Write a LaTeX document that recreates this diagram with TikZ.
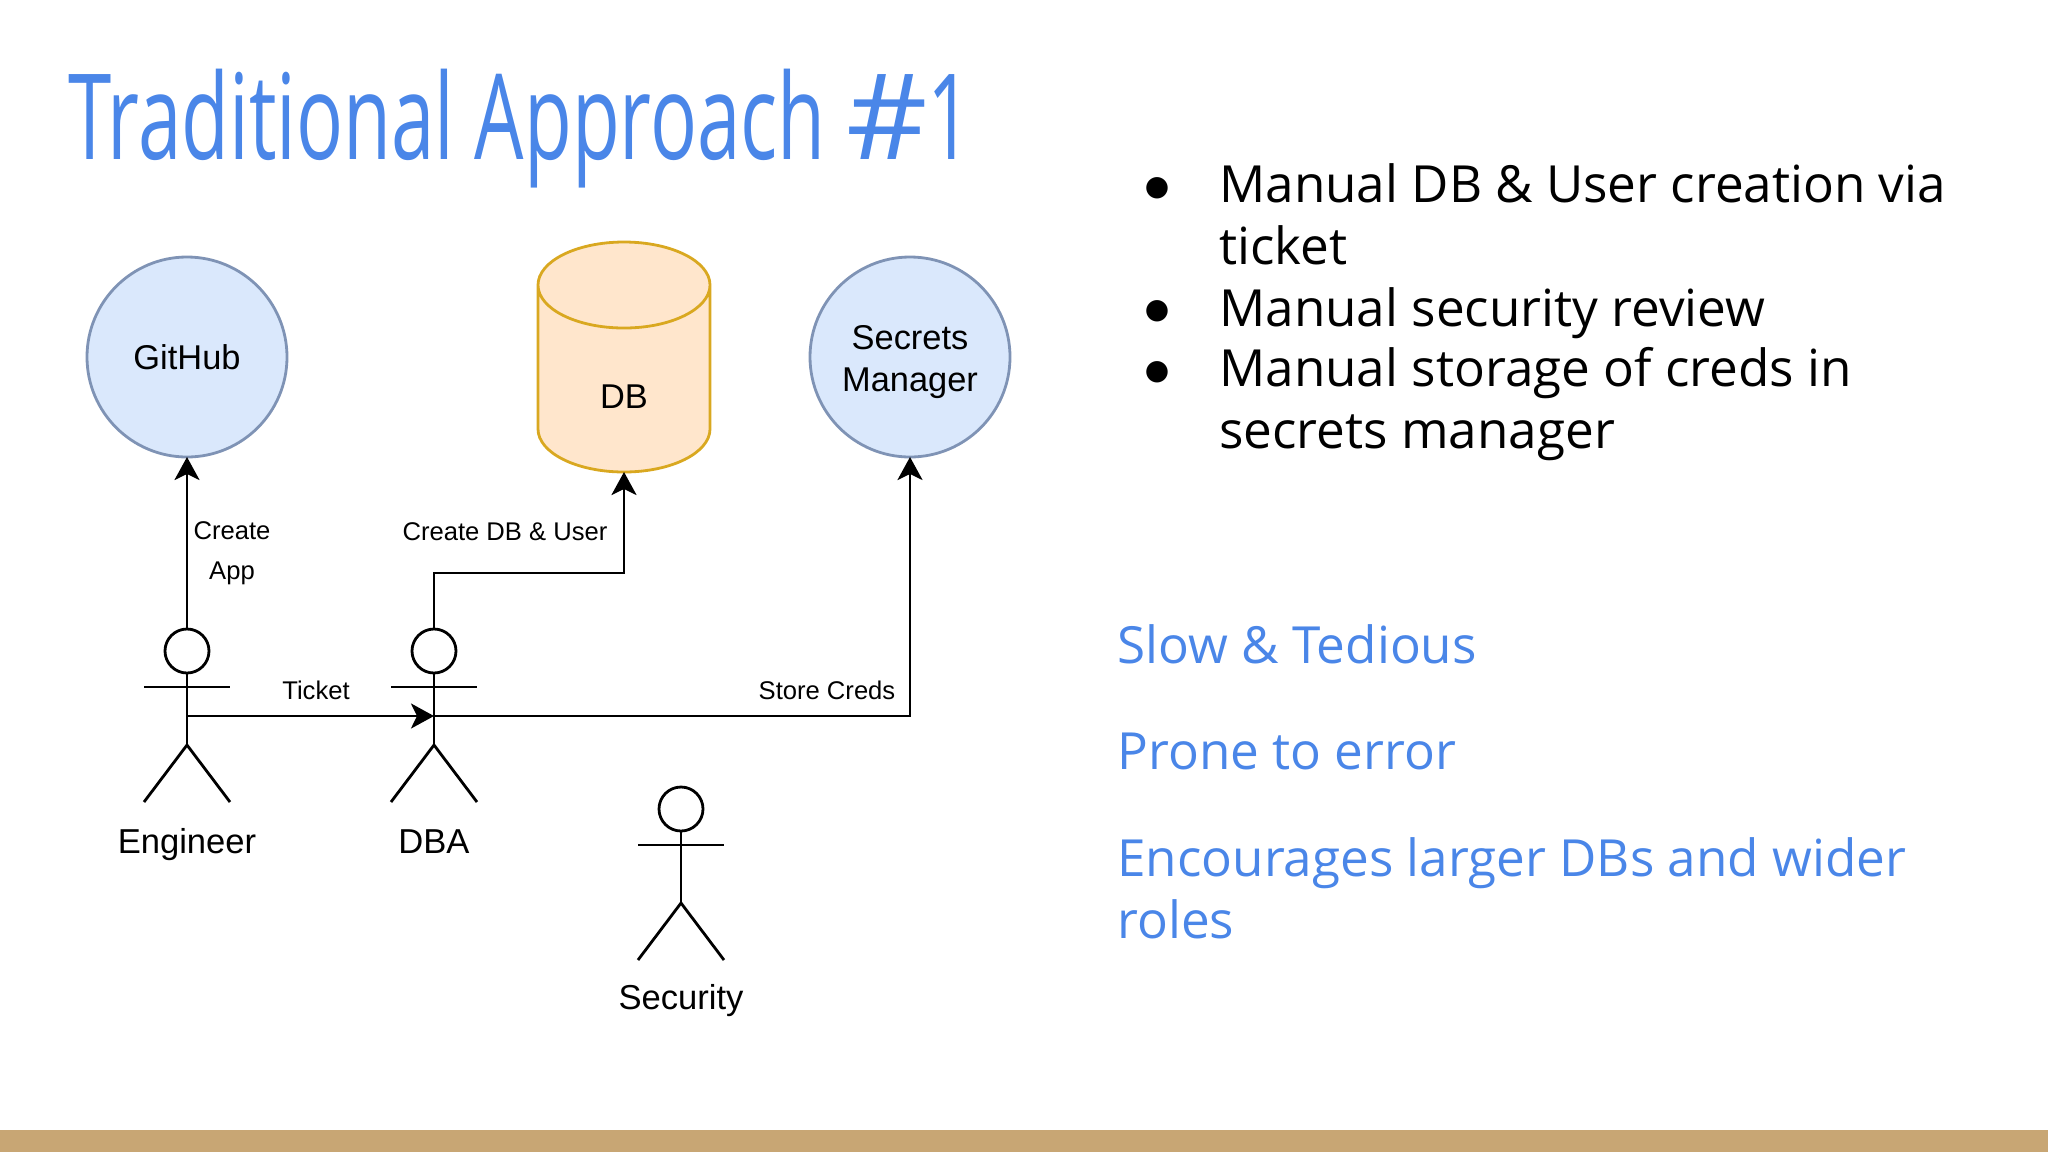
\documentclass[tikz,border=0pt]{standalone}
\usepackage{fontspec}
\setmainfont{Open Sans}
\newfontfamily\titlefont[FakeStretch=0.656]{Open Sans}
\newfontfamily\titlewide[FakeStretch=1.06]{Open Sans}
\newfontfamily\boxfont{Liberation Sans}
\newfontfamily\markfont{DejaVu Sans}
\usetikzlibrary{arrows.meta}
\usetikzlibrary{shapes.geometric}
\definecolor{TITLEBLUE}{HTML}{4A86E8}
\definecolor{BAR}{HTML}{C8A674}
\definecolor{CIRCLEFILL}{HTML}{DAE8FC}
\definecolor{CIRCLELINE}{HTML}{7F93B5}
\definecolor{DBFILL}{HTML}{FFE6CC}
\definecolor{DBLINE}{HTML}{D9A820}
\tikzset{
    flow/.style={draw=black, line width=1.4pt, -{Stealth[length=11.5pt, width=12.5pt, inset=3pt]}},
    stickline/.style={draw=black, line width=1.4pt},
    round box/.style={circle, draw=CIRCLELINE, fill=CIRCLEFILL, line width=1.4pt, minimum size=100pt, inner sep=0pt, outer sep=0pt, align=center, font=\boxfont\fontsize{17.2}{21}\selectfont},
    edge text/.style={inner sep=0pt, align=center, font=\boxfont\fontsize{12.8}{20}\selectfont},
    actor text/.style={inner sep=0pt, anchor=base, font=\boxfont\fontsize{17.3}{20}\selectfont},
    slide text/.style={inner sep=0pt, anchor=base west, align=left, font=\fontsize{25.6}{30.65}\selectfont},
    bullet/.style={inner sep=0pt, font=\markfont\fontsize{14}{20}\selectfont}
}

\begin{document}
\begin{tikzpicture}[x=0.5pt, y=-0.5pt]
    \useasboundingbox (0,0) rectangle (2048,1152);
    \fill[BAR] (0,1130) rectangle (2048,1152);

    \node[inner sep=0pt, anchor=base west, text=TITLEBLUE, font=\titlefont\fontsize{59.5}{70}\selectfont] (title) at (68,159) {Traditional Approach {\titlewide\#}1};

    % targets
    \node[round box] (github) at (187,357) {GitHub};
    \node[round box] (secrets) at (910,357) {\rule{0pt}{17.5pt}Secrets\\Manager};
    \node[cylinder, shape border rotate=90, aspect=1.8, anchor=shape center, draw=DBLINE, fill=DBFILL, line width=1.4pt, minimum width=86pt, minimum height=115pt, inner sep=0pt, outer sep=0pt, font=\boxfont\fontsize{17.2}{21}\selectfont] (db) at (624,357) {\raisebox{-14.5pt}[0pt][0pt]{DB}};

    % stick figures
    \foreach \actorname/\xpos/\ypos in {engineer/187/651, dba/434/651, security/681/809} {
        \node[circle, draw=black, line width=1.4pt, minimum size=22pt, inner sep=0pt, outer sep=0pt] (\actorname head) at (\xpos,\ypos) {};
        \coordinate (\actorname body) at (\xpos,\ypos+65);
        \draw[stickline] (\actorname head) -- (\xpos,\ypos+94);
        \draw[stickline] (\xpos-43,\ypos+36) -- (\xpos+43,\ypos+36);
        \draw[stickline] (\xpos-43,\ypos+151) -- (\xpos,\ypos+94) -- (\xpos+43,\ypos+151);
    }
    \node[actor text] (engineer) at (187,853) {Engineer};
    \node[actor text] (dba) at (434,853) {DBA};
    \node[actor text] (security) at (681,1009) {Security};

    % connectors
    \coordinate (dbaturn) at (434,573);
    \draw[flow] (engineerhead) -- (github);
    \draw[flow] (dbahead) -- (dbaturn) -| (db);
    \draw[flow] (engineerbody) -- (dbabody);
    \draw[flow] (dbabody) -| (secrets);

    \node[edge text] (createapp) at (232,553) {Create\\App};
    \node[edge text] (createdb) at (505,532) {Create DB \& User};
    \node[edge text] (ticket) at (316,690) {Ticket};
    \node[edge text] (storecreds) at (827,690) {Store Creds};

    % right column
    \node[bullet] (dot1) at (1157,188) {●};
    \node[bullet] (dot2) at (1157,311) {●};
    \node[bullet] (dot3) at (1157,372) {●};
    \node[slide text] (point1) at (1219,264) {Manual DB \& User creation via\\ticket};
    \node[slide text] (point2) at (1219,326) {Manual security review};
    \node[slide text] (point3) at (1219,448) {Manual storage of creds in\\secrets manager};
    \node[slide text, text=TITLEBLUE] (slow) at (1117,663) {Slow \& Tedious};
    \node[slide text, text=TITLEBLUE] (prone) at (1117,769) {Prone to error};
    \node[slide text, text=TITLEBLUE] (larger) at (1117,938) {Encourages larger DBs and wider\\roles};
\end{tikzpicture}
\end{document}
